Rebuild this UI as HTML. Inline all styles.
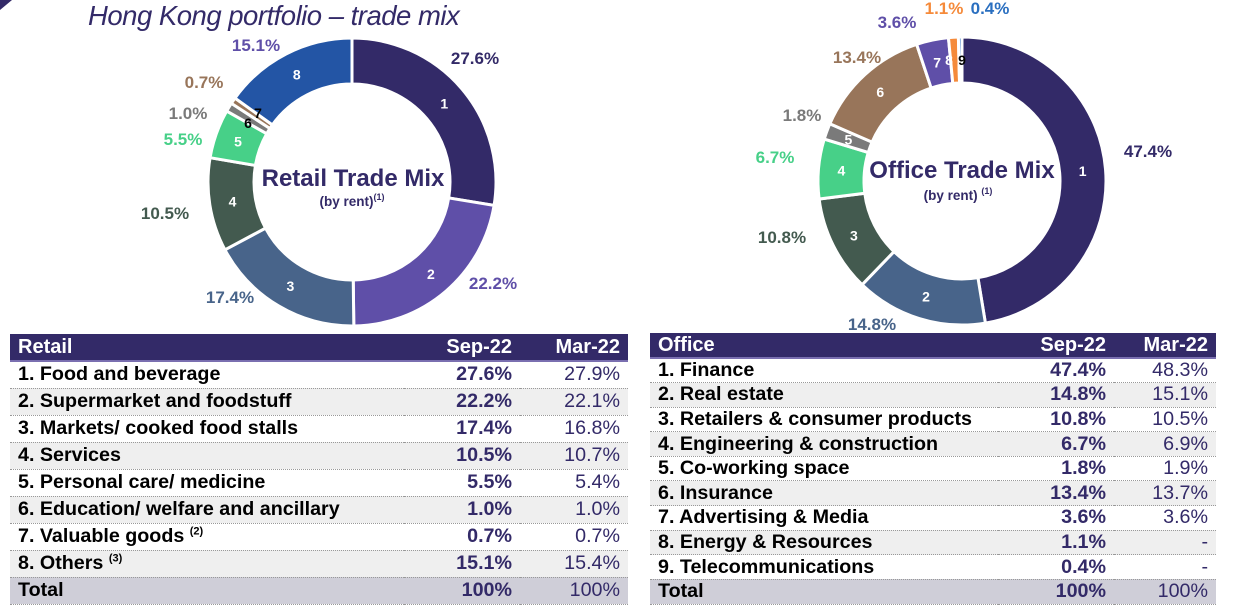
<!DOCTYPE html>
<html><head><meta charset="utf-8">
<style>
body{margin:0;width:1238px;height:608px;overflow:hidden;background:#fff;font-family:"Liberation Sans",Arial,sans-serif;position:relative}
#title{position:absolute;left:88px;top:0px;font-size:27.5px;font-style:italic;color:#332a68;letter-spacing:-0.5px;white-space:nowrap}
svg{position:absolute;left:0;top:0}
table{position:absolute;border-collapse:collapse;font-weight:bold;font-size:19.7px;color:#000}
td{padding:0 8px;white-space:nowrap;border-bottom:1px dotted #999}
th{background:#332a68;color:#fff;text-align:left;padding:0 8px;border-bottom:2px solid #7a6fb0;font-size:20px}
th.n,td.n{text-align:right}
td.s{color:#332a68}
td.m{color:#332a68;font-weight:normal}
tr.g td{background:#efefef}
tr.t td{background:#cfced8}
sup{font-size:11px}
</style></head><body>
<div id="title">Hong Kong portfolio – trade mix</div>
<svg width="1238" height="608">
<polygon points="0,0 12,0 0,10" fill="#332a68"/>
<g id="retail"></g>
<g id="office"></g>
<text x="353" y="186" text-anchor="middle" font-size="24" font-weight="bold" fill="#332a68">Retail Trade Mix</text>
<text x="352" y="206" text-anchor="middle" font-size="13.5" font-weight="bold" fill="#332a68">(by rent)<tspan font-size="9" dy="-6">(1)</tspan></text>
<text x="962" y="178" text-anchor="middle" font-size="24" font-weight="bold" fill="#332a68">Office Trade Mix</text>
<text x="958" y="200" text-anchor="middle" font-size="13.5" font-weight="bold" fill="#332a68">(by rent) <tspan font-size="9" dy="-6">(1)</tspan></text>
</svg>

<table style="left:10px;top:334px;width:618px">
<tr style="height:27px"><th>Retail</th><th class="n" style="width:100px">Sep-22</th><th class="n" style="width:92px">Mar-22</th></tr>
<tr style="height:27px"><td>1. Food and beverage</td><td class="n s">27.6%</td><td class="n m">27.9%</td></tr>
<tr class="g" style="height:27px"><td>2. Supermarket and foodstuff</td><td class="n s">22.2%</td><td class="n m">22.1%</td></tr>
<tr style="height:27px"><td>3. Markets/ cooked food stalls</td><td class="n s">17.4%</td><td class="n m">16.8%</td></tr>
<tr class="g" style="height:27px"><td>4. Services</td><td class="n s">10.5%</td><td class="n m">10.7%</td></tr>
<tr style="height:27px"><td>5. Personal care/ medicine</td><td class="n s">5.5%</td><td class="n m">5.4%</td></tr>
<tr class="g" style="height:27px"><td>6. Education/ welfare and ancillary</td><td class="n s">1.0%</td><td class="n m">1.0%</td></tr>
<tr style="height:27px"><td>7. Valuable goods <sup>(2)</sup></td><td class="n s">0.7%</td><td class="n m">0.7%</td></tr>
<tr class="g" style="height:27px"><td>8. Others <sup>(3)</sup></td><td class="n s">15.1%</td><td class="n m">15.4%</td></tr>
<tr class="t" style="height:27px"><td>Total</td><td class="n s">100%</td><td class="n m">100%</td></tr>
</table>

<table style="left:650px;top:333px;width:566px">
<tr style="height:25px"><th>Office</th><th class="n" style="width:100px">Sep-22</th><th class="n" style="width:86px">Mar-22</th></tr>
<tr style="height:24.6px"><td>1. Finance</td><td class="n s">47.4%</td><td class="n m">48.3%</td></tr>
<tr class="g" style="height:24.6px"><td>2. Real estate</td><td class="n s">14.8%</td><td class="n m">15.1%</td></tr>
<tr style="height:24.6px"><td>3. Retailers &amp; consumer products</td><td class="n s">10.8%</td><td class="n m">10.5%</td></tr>
<tr class="g" style="height:24.6px"><td>4. Engineering &amp; construction</td><td class="n s">6.7%</td><td class="n m">6.9%</td></tr>
<tr style="height:24.6px"><td>5. Co-working space</td><td class="n s">1.8%</td><td class="n m">1.9%</td></tr>
<tr class="g" style="height:24.6px"><td>6. Insurance</td><td class="n s">13.4%</td><td class="n m">13.7%</td></tr>
<tr style="height:24.6px"><td>7. Advertising &amp; Media</td><td class="n s">3.6%</td><td class="n m">3.6%</td></tr>
<tr class="g" style="height:24.6px"><td>8. Energy &amp; Resources</td><td class="n s">1.1%</td><td class="n m">-</td></tr>
<tr style="height:24.6px"><td>9. Telecommunications</td><td class="n s">0.4%</td><td class="n m">-</td></tr>
<tr class="t" style="height:25px"><td>Total</td><td class="n s">100%</td><td class="n m">100%</td></tr>
</table>

<script>
const retailCategories = ["1","2","3","4","5","6","7","8"];
const retailValues = [27.6, 22.2, 17.4, 10.5, 5.5, 1.0, 0.7, 15.1];
const retailColors = ["#332a68","#5f4fa8","#48648a","#435a4f","#47d088","#7a7a7a","#98755a","#2355a5"];
const retailLabelColors = ["#332a68","#5f4fa8","#48648a","#435a4f","#47d088","#7a7a7a","#98755a","#5f4fa8"];
const retailLabelPos = [[475,64],[493,289],[230,303],[165,219],[183,145],[188,119],[204,88],[256,51]];
const retailNumPos = [null,null,null,null,null,[248,128],[258,118],null];
const officeCategories = ["1","2","3","4","5","6","7","8","9"];
const officeValues = [47.4, 14.8, 10.8, 6.7, 1.8, 13.4, 3.6, 1.1, 0.4];
const officeColors = ["#332a68","#48648a","#435a4f","#47d088","#7a7a7a","#98755a","#5f4fa8","#f58a3a","#2a6fc0"];
const officeLabelColors = officeColors;
const officeLabelPos = [[1148,157],[872,330],[782,243],[775,163],[802,121],[857,63],[897,28],[944,14],[990,14]];
const officeNumPos = [null,null,null,null,null,null,null,[949,65],[962,65]];
const NS = "http://www.w3.org/2000/svg";

function drawDonut(gId, cats, vals, cols, lcols, lpos, npos, cx, cy, ro, ri){
  const g = document.getElementById(gId);
  const total = vals.reduce((a,b)=>a+b,0);
  const pt = (a,r)=>[cx + r*Math.sin(a), cy - r*Math.cos(a)];
  const labels = [];
  let acc = 0;
  vals.forEach((v,i)=>{
    const a0 = acc/total*2*Math.PI, a1 = (acc+v)/total*2*Math.PI;
    acc += v;
    const large = (a1-a0) > Math.PI ? 1 : 0;
    const p0=pt(a0,ro), p1=pt(a1,ro), p2=pt(a1,ri), p3=pt(a0,ri);
    const path = document.createElementNS(NS,"path");
    path.setAttribute("d",`M${p0[0]},${p0[1]} A${ro},${ro} 0 ${large} 1 ${p1[0]},${p1[1]} L${p2[0]},${p2[1]} A${ri},${ri} 0 ${large} 0 ${p3[0]},${p3[1]} Z`);
    path.setAttribute("fill",cols[i]);
    path.setAttribute("stroke","#fff");
    path.setAttribute("stroke-width","3");
    
    
    g.appendChild(path);
    labels.push((a0+a1)/2);
  });
  vals.forEach((v,i)=>{
    const am = labels[i];
    const lp = npos[i] ? [npos[i][0], npos[i][1]-5] : pt(am,(ro+ri)/2);
    const num = document.createElementNS(NS,"text");
    num.setAttribute("x",lp[0]); num.setAttribute("y",lp[1]+5);
    num.setAttribute("text-anchor","middle");
    num.setAttribute("font-size","14"); num.setAttribute("font-weight","bold");
    num.setAttribute("fill", v < 1.0 || (v<1.5 && gId==="retail") ? "#000" : "#fff");
    num.textContent = cats[i];
    
    
    g.appendChild(num);
    const lab = document.createElementNS(NS,"text");
    lab.setAttribute("x",lpos[i][0]); lab.setAttribute("y",lpos[i][1]);
    lab.setAttribute("text-anchor","middle");
    lab.setAttribute("font-size","17"); lab.setAttribute("font-weight","bold");
    lab.setAttribute("fill",lcols[i]);
    lab.textContent = v.toFixed(1) + "%";
    
    
    g.appendChild(lab);
  });
}
drawDonut("retail", retailCategories, retailValues, retailColors, retailLabelColors, retailLabelPos, retailNumPos, 352, 182, 144, 98);
drawDonut("office", officeCategories, officeValues, officeColors, officeLabelColors, officeLabelPos, officeNumPos, 962, 181, 144, 98);
</script>
</body></html>
